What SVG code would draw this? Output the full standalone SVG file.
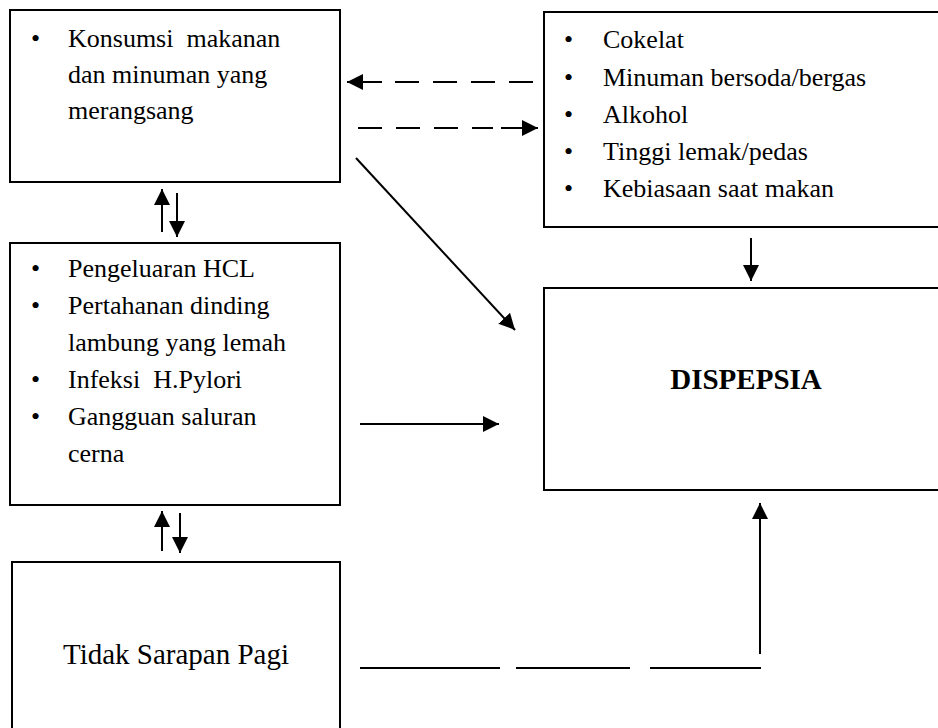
<svg xmlns="http://www.w3.org/2000/svg" width="938" height="728" viewBox="0 0 938 728">
<style>
.box{fill:#fff;stroke:#000;stroke-width:2}
.c{stroke:#000;stroke-width:2;fill:none}
.d{stroke-dasharray:24 14}
</style>
<defs>
<marker id="ah" markerUnits="userSpaceOnUse" markerWidth="18" markerHeight="18" refX="16" refY="8" orient="auto">
<path d="M0,0 L16,8 L0,16 z" fill="#000"/>
</marker>
</defs>
<g font-family="Liberation Serif, serif" font-size="26" fill="#000">
<g id="konsumsi">
<rect class="box" x="10" y="10" width="330" height="172"/>
<text x="31" y="47">•</text>
<text x="68" y="47" xml:space="preserve">Konsumsi  makanan</text>
<text x="68" y="83">dan minuman yang</text>
<text x="68" y="119">merangsang</text>
</g>
<g id="faktor">
<rect class="box" x="544" y="12" width="400" height="215"/>
<text x="564" y="48">•</text><text x="603" y="48">Cokelat</text>
<text x="564" y="86">•</text><text x="603" y="86">Minuman bersoda/bergas</text>
<text x="564" y="123">•</text><text x="603" y="123">Alkohol</text>
<text x="564" y="160">•</text><text x="603" y="160">Tinggi lemak/pedas</text>
<text x="564" y="197">•</text><text x="603" y="197">Kebiasaan saat makan</text>
</g>
<g id="mekanisme">
<rect class="box" x="10" y="243" width="330" height="262"/>
<text x="31" y="277">•</text><text x="68" y="277">Pengeluaran HCL</text>
<text x="31" y="314">•</text><text x="68" y="314">Pertahanan dinding</text>
<text x="68" y="351">lambung yang lemah</text>
<text x="31" y="388">•</text><text x="68" y="388" xml:space="preserve">Infeksi  H.Pylori</text>
<text x="31" y="425">•</text><text x="68" y="425">Gangguan saluran</text>
<text x="68" y="462">cerna</text>
</g>
<g id="dispepsia">
<rect class="box" x="544" y="288" width="400" height="202"/>
<text x="746" y="389" text-anchor="middle" font-weight="bold" font-size="29">DISPEPSIA</text>
</g>
<g id="sarapan">
<rect class="box" x="12" y="562" width="328" height="180"/>
<text x="176" y="664" text-anchor="middle" font-size="29">Tidak Sarapan Pagi</text>
</g>
</g>
<g id="connectors">
<line class="c d" x1="533" y1="82" x2="392" y2="82"/>
<line class="c" x1="382" y1="82" x2="347" y2="82" marker-end="url(#ah)"/>
<line class="c d" x1="358" y1="128" x2="493" y2="128"/>
<line class="c" x1="501" y1="128" x2="538" y2="128" marker-end="url(#ah)"/>
<line class="c" x1="356" y1="158" x2="515" y2="330" marker-end="url(#ah)"/>
<line class="c" x1="360" y1="424" x2="499" y2="424" marker-end="url(#ah)"/>
<line class="c" x1="751" y1="238" x2="751" y2="281" marker-end="url(#ah)"/>
<line class="c" x1="760" y1="654" x2="760" y2="503" marker-end="url(#ah)"/>
<line class="c" x1="360" y1="668" x2="500" y2="668"/>
<line class="c" x1="516" y1="668" x2="630" y2="668"/>
<line class="c" x1="650" y1="668" x2="761" y2="668"/>
<line class="c" x1="162" y1="232" x2="162" y2="189" marker-end="url(#ah)"/>
<line class="c" x1="177" y1="193" x2="177" y2="237" marker-end="url(#ah)"/>
<line class="c" x1="162" y1="551" x2="162" y2="511" marker-end="url(#ah)"/>
<line class="c" x1="180" y1="513" x2="180" y2="553" marker-end="url(#ah)"/>
</g>
</svg>
